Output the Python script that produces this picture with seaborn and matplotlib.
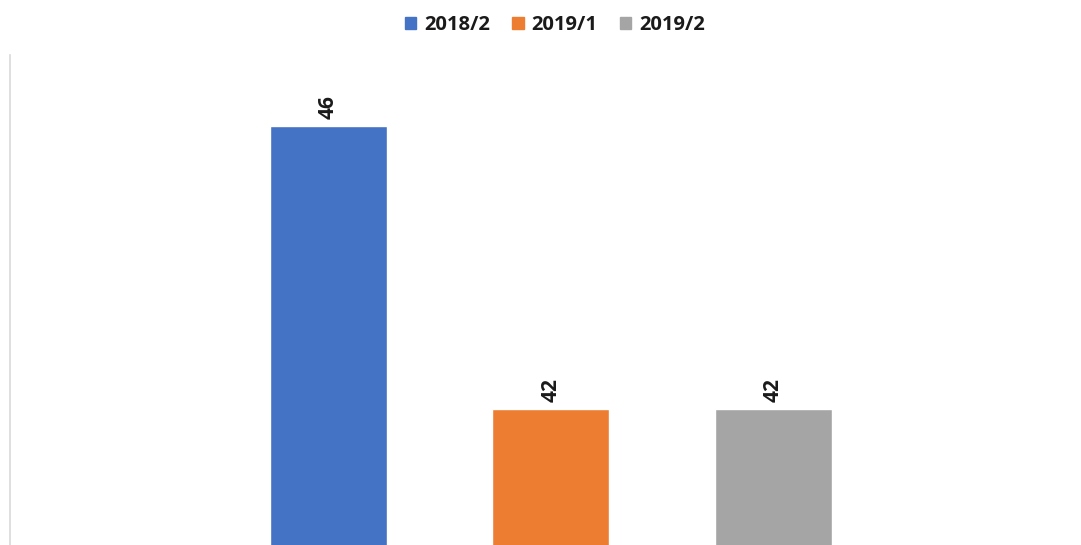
import matplotlib
matplotlib.use("Agg")
import matplotlib.pyplot as plt
import seaborn as sns
import pandas as pd

# Survey periods and their values
periods = ["2018/2", "2019/1", "2019/2"]
values = [46, 42, 42]
colors = ["#4472C4", "#ED7D31", "#A5A5A5"]

df = pd.DataFrame({"period": periods, "value": values})

sns.set_style("white")
plt.rcParams["font.family"] = ["Open Sans", "DejaVu Sans"]

fig = plt.figure(figsize=(10.81, 5.45), dpi=100)
ax = fig.add_axes([10 / 1081, 0.0, 1 - 10 / 1081, 490 / 545])

sns.barplot(data=df, x="period", y="value", hue="period",
            palette=colors, width=0.526, dodge=False, legend=False, ax=ax,
            saturation=1)

ax.set_xlim(-1.431, 3.384)
ax.set_ylim(40.08, 47.0)

for container in ax.containers:
    ax.bar_label(container, fmt="%d", rotation=90, padding=5,
                 fontsize=15, fontweight="bold", color="#1a1a1a")

ax.set_xlabel("")
ax.set_ylabel("")
ax.set_xticks([])
ax.set_yticks([])
for side in ["top", "right", "bottom"]:
    ax.spines[side].set_visible(False)
ax.spines["left"].set_color("#D9D9D9")
ax.spines["left"].set_linewidth(1.2)

handles = [plt.Rectangle((0, 0), 1, 1, color=c) for c in colors]
fig.legend(handles, periods, loc="center", bbox_to_anchor=(555 / 1081, 1 - 25 / 545),
           ncol=3, frameon=False, handlelength=0.55, handleheight=0.55,
           handletextpad=0.4, columnspacing=1.1,
           prop={"size": 14.5, "weight": "bold"}, labelcolor="#1a1a1a")

fig.savefig("out.png", dpi=100, facecolor="white")
